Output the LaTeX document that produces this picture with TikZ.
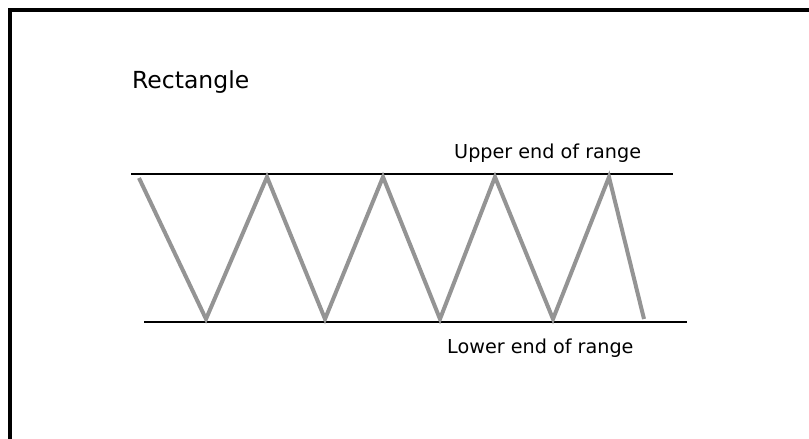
\documentclass[tikz,border=0pt]{standalone}
\usepackage{fontspec}
\setmainfont{DejaVu Sans}
\usepackage{tikz}
\usetikzlibrary{positioning}

\begin{document}
\begin{tikzpicture}[
    x=1pt, y=-1pt,
    bound/.style={line width=3.5pt},
    level/.style={line width=2.8pt},
    swing/.style={black!42, line width=4pt, line join=miter},
    label/.style={anchor=base west, inner sep=0pt, font=\fontsize{19.2}{22}\selectfont}
]

\useasboundingbox (0,0) rectangle (809,439);
\clip (0,0) rectangle (809,439);

% outer frame, runs off the right and bottom
\draw[bound] (10,460) -- (10,10) -- (830,10);

\node[label, font=\fontsize{23.5}{27}\selectfont] (title) at (132,88) {Rectangle};

% range boundaries
\coordinate (upL) at (131,174);
\coordinate (upR) at (673,174);
\coordinate (loL) at (144,322);
\coordinate (loR) at (687,322);
\draw[level] (upL) -- (upR);
\draw[level] (loL) -- (loR);

\node[label] (upper) at (454,158) {Upper end of range};
\node[label] (lower) at (447,353) {Lower end of range};

% price swinging between the two
\draw[swing] (139,178)
\foreach \x/\y in {206/319, 267/177, 325/319, 383/177, 440/319,
                   495/177, 553/319, 609/177, 644/319}{
    -- (\x,\y)
};

\end{tikzpicture}
\end{document}
